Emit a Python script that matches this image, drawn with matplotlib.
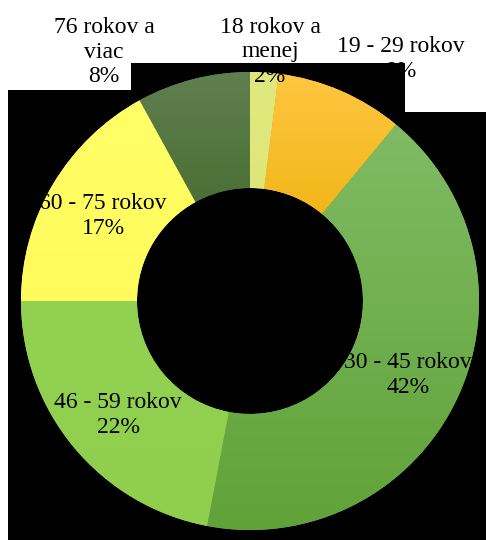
import numpy as np
import matplotlib.pyplot as plt
from matplotlib.patches import Rectangle
from matplotlib.colors import to_rgb

# data
kategorie = ["18 rokov a\nmenej", "19 - 29 rokov", "30 - 45 rokov",
             "46 - 59 rokov", "60 - 75 rokov", "76 rokov a\nviac"]
podiel = [2, 9, 42, 22, 17, 8]

# gradient colours per slice (top, bottom)
farby_hore = ["#E1E87D", "#FFC641", "#80BB64", "#93D152", "#FFFF66", "#60804F"]
farby_dole = ["#DCE476", "#E8AE00", "#60A238", "#90CE4E", "#FFFB5C", "#3B6224"]

# label positions in pixels (x, y from top)
pozicie = [(270, 52), (401, 59), (408, 375), (118, 415), (103, 216), (104, 52)]

fig = plt.figure(figsize=(4.86, 5.4), dpi=100)
ax = fig.add_axes([0, 0, 1, 1])

# black plot area (irregular)
for x0, x1, top in [(8, 131, 90), (131, 405, 63), (405, 486, 112)]:
    ax.add_patch(Rectangle((x0, 0), x1 - x0, 540 - top, color="black", lw=0, zorder=0))

cx, cy, r = 250, 239, 229
wedges, _ = ax.pie(podiel, radius=r, center=(cx, cy), startangle=90, counterclock=False,
                   colors=farby_hore, frame=True,
                   wedgeprops=dict(width=116, linewidth=0))

for w, c1, c2 in zip(wedges, farby_hore, farby_dole):
    v = w.get_path().vertices
    y0, y1 = v[:, 1].min(), v[:, 1].max()
    t = np.linspace(0, 1, 200)[:, None]
    grad = (1 - t) * np.array(to_rgb(c2)) + t * np.array(to_rgb(c1))
    im = ax.imshow(grad[:, None, :], extent=[cx - r, cx + r, y0, y1], origin="lower",
                   aspect="auto", zorder=2, interpolation="bilinear")
    im.set_clip_path(w)

pct = [f"{p}%" for p in podiel]
for lab, p, (x, y) in zip(kategorie, pct, pozicie):
    ax.text(x, 540 - y, lab + "\n" + p, ha="center", va="center", fontsize=17,
            family="Liberation Serif", linespacing=1.24, zorder=5, color="black")

ax.set_xlim(0, 486)
ax.set_ylim(0, 540)
ax.set_aspect("auto")
ax.axis("off")

fig.savefig("out.png", dpi=100, facecolor="white")
